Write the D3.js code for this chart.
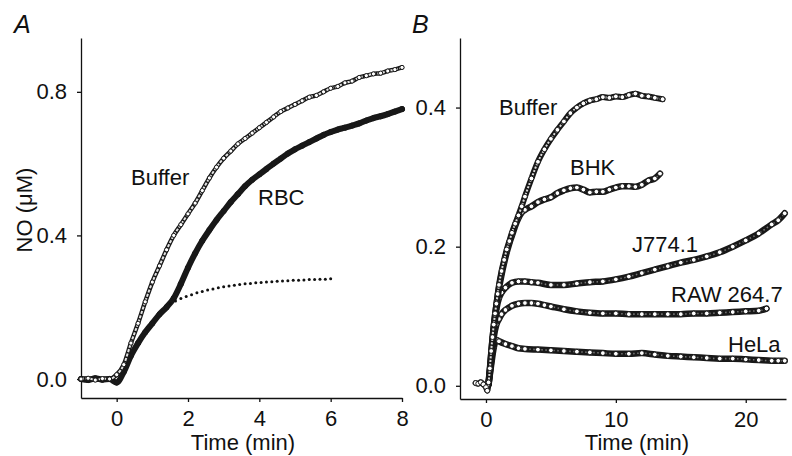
<!DOCTYPE html>
<html>
<head>
<meta charset="utf-8">
<script src="https://cdn.jsdelivr.net/npm/d3@7"></script>
<style>
  body { margin: 0; background: #fff; }
  svg { display: block; font-family: "Liberation Sans", Arial, sans-serif; }
  .axis path, .axis line { stroke: #111; stroke-width: 1.3; }
  .axis text { font-size: 22px; fill: #111; font-family: "Liberation Sans", Arial, sans-serif; }
</style>
</head>
<body>
<svg id="chart" width="792" height="456"></svg>
<script>
// panel A : time (min) and NO (uM)
var timeA = [-1, -0.8, -0.6, -0.4, -0.2, 0, 0.2, 0.4, 0.6, 0.8, 1.0, 1.2, 1.4, 1.6, 1.8, 2.0, 2.2, 2.4, 2.6, 2.8, 3.0,
  3.2, 3.4, 3.6, 3.8, 4.0, 4.2, 4.4, 4.6, 4.8, 5.0, 5.2, 5.4, 5.6, 5.8, 6.0, 6.2, 6.4, 6.6, 6.8, 7.0, 7.2, 7.4, 7.6, 7.8, 8.0];
var bufferA = [0, 0.002, -0.003, 0.001, 0, 0.012, 0.04, 0.10, 0.155, 0.215, 0.27, 0.315, 0.36, 0.40, 0.43, 0.46, 0.49, 0.525,
  0.56, 0.59, 0.615, 0.635, 0.655, 0.67, 0.685, 0.70, 0.715, 0.73, 0.745, 0.755, 0.765, 0.775, 0.785, 0.79, 0.80, 0.81,
  0.815, 0.825, 0.83, 0.84, 0.845, 0.85, 0.852, 0.858, 0.862, 0.868];
var rbcA = [0, -0.003, 0.002, -0.002, 0, -0.01, 0.02, 0.065, 0.10, 0.13, 0.155, 0.18, 0.20, 0.225, 0.265, 0.31, 0.35, 0.385,
  0.415, 0.443, 0.468, 0.493, 0.515, 0.537, 0.555, 0.57, 0.585, 0.60, 0.614, 0.628, 0.64, 0.65, 0.66, 0.67, 0.68, 0.688,
  0.695, 0.70, 0.706, 0.712, 0.72, 0.727, 0.732, 0.738, 0.745, 0.752];
var fitTime = [1.5, 1.65, 1.8, 1.95, 2.1, 2.25, 2.4, 2.55, 2.7, 2.85, 3.0, 3.15, 3.3, 3.45, 3.6, 3.75, 3.9, 4.05, 4.2, 4.35,
  4.5, 4.65, 4.8, 4.95, 5.1, 5.25, 5.4, 5.55, 5.7, 5.85, 6.0];
var fitA = [0.21, 0.217, 0.224, 0.23, 0.235, 0.24, 0.244, 0.248, 0.251, 0.254, 0.257, 0.259, 0.261, 0.263, 0.265, 0.266,
  0.268, 0.269, 0.270, 0.271, 0.272, 0.273, 0.274, 0.275, 0.275, 0.276, 0.277, 0.277, 0.278, 0.278, 0.279];

// panel B : [time, NO]
var bufferB = [[-0.8, 0.004], [-0.6, 0.003], [-0.4, 0.005], [-0.2, 0.002], [0, -0.002], [0.1, -0.007], [0.2, 0.005],
  [0.3, 0.025], [0.4, 0.05], [0.5, 0.07], [0.6, 0.088], [0.7, 0.104], [0.8, 0.118], [0.9, 0.132], [1.0, 0.145],
  [1.2, 0.165], [1.4, 0.181], [1.6, 0.196], [1.8, 0.208], [2.0, 0.22], [2.25, 0.233], [2.5, 0.245], [2.75, 0.258],
  [3.0, 0.272], [3.5, 0.298], [4.0, 0.322], [4.5, 0.34], [5.0, 0.355], [5.5, 0.368], [6.0, 0.38], [6.5, 0.392],
  [7.0, 0.40], [7.5, 0.406], [8.0, 0.41], [8.5, 0.412], [9.0, 0.415], [9.5, 0.414], [10, 0.416], [10.5, 0.415],
  [11, 0.418], [11.5, 0.42], [12, 0.417], [12.5, 0.416], [13, 0.414], [13.6, 0.412]];
var bhkB = [[0.2, 0.004], [0.4, 0.045], [0.6, 0.085], [0.8, 0.115], [1.0, 0.14], [1.2, 0.16], [1.4, 0.177], [1.6, 0.192],
  [1.8, 0.205], [2.0, 0.216], [2.25, 0.23], [2.5, 0.241], [2.75, 0.249], [3.0, 0.253], [3.5, 0.258], [4.0, 0.264],
  [4.5, 0.268], [5.0, 0.271], [5.5, 0.277], [6.0, 0.281], [6.5, 0.284], [7.0, 0.285], [7.5, 0.282], [8.0, 0.278],
  [8.5, 0.279], [9.0, 0.279], [9.5, 0.282], [10, 0.285], [10.5, 0.287], [11, 0.287], [11.5, 0.286], [12, 0.289],
  [12.5, 0.295], [13, 0.298], [13.4, 0.305]];
var j774B = [[0.2, 0.003], [0.4, 0.04], [0.6, 0.08], [0.8, 0.11], [1.0, 0.126], [1.2, 0.134], [1.5, 0.141], [2.0, 0.148],
  [2.5, 0.15], [3.0, 0.15], [3.5, 0.149], [4.0, 0.148], [5.0, 0.145], [6.0, 0.145], [7.0, 0.147], [8.0, 0.149],
  [9.0, 0.15], [10, 0.153], [11, 0.157], [12, 0.162], [13, 0.167], [14, 0.172], [15, 0.177], [16, 0.181], [17, 0.186],
  [18, 0.192], [19, 0.2], [20, 0.209], [21, 0.219], [22, 0.232], [22.5, 0.238], [23, 0.248]];
var rawB = [[0.2, 0.002], [0.4, 0.035], [0.6, 0.07], [0.8, 0.088], [1.0, 0.096], [1.2, 0.103], [1.5, 0.109], [2.0, 0.115],
  [2.5, 0.118], [3.0, 0.119], [3.5, 0.119], [4.0, 0.118], [4.5, 0.116], [5.0, 0.114], [6.0, 0.11], [7.0, 0.107],
  [8.0, 0.105], [9.0, 0.104], [10, 0.104], [11, 0.103], [12, 0.103], [13, 0.103], [14, 0.103], [15, 0.103],
  [16, 0.104], [17, 0.104], [18, 0.105], [19, 0.106], [20, 0.107], [21, 0.108], [21.6, 0.111]];
var helaB = [[0.2, 0.002], [0.4, 0.03], [0.6, 0.055], [0.8, 0.066], [1.0, 0.064], [1.5, 0.06], [2.0, 0.057], [2.5, 0.054],
  [3.0, 0.053], [4.0, 0.052], [5.0, 0.051], [6.0, 0.05], [7.0, 0.049], [8.0, 0.048], [9.0, 0.047], [10, 0.046],
  [11, 0.046], [12, 0.047], [13, 0.045], [14, 0.043], [15, 0.042], [16, 0.041], [17, 0.04], [18, 0.039], [19, 0.039],
  [20, 0.038], [21, 0.037], [22, 0.036], [22.5, 0.036], [23, 0.036]];

var ticksAx = [0, 2, 4, 6, 8], ticksAy = [0, 0.4, 0.8];
var ticksBx = [0, 10, 20], ticksBy = [0, 0.2, 0.4];

var svg = d3.select("#chart");

var xA = d3.scaleLinear().domain([-1, 8]).range([81, 402]);
var yA = d3.scaleLinear().domain([-0.053, 0.95]).range([398, 38]);
var xB = d3.scaleLinear().domain([-2, 23.1]).range([460, 786]);
var yB = d3.scaleLinear().domain([-0.019, 0.50]).range([399, 38]);

function drawAxes(x, y, tx, ty) {
  svg.append("g").attr("class", "axis")
    .attr("transform", "translate(0," + y.range()[0] + ")")
    .call(d3.axisBottom(x).tickValues(tx).tickSize(4).tickSizeOuter(0).tickPadding(8).tickFormat(d3.format("d")));
  svg.append("g").attr("class", "axis")
    .attr("transform", "translate(" + x.range()[0] + ",0)")
    .call(d3.axisLeft(y).tickValues(ty).tickSize(4).tickSizeOuter(0).tickPadding(10).tickFormat(d3.format(".1f")));
}

// style: band width, inner colour (null = solid), marker radius
function drawSeries(pts, x, y, st) {
  var line = d3.line().x(function(d) { return x(d[0]); }).y(function(d) { return y(d[1]); }).curve(d3.curveMonotoneX);
  var g = svg.append("g");
  g.append("path").attr("d", line(pts)).attr("fill", "none")
    .attr("stroke", "#181818").attr("stroke-width", st.w).attr("stroke-linejoin", "round").attr("stroke-linecap", "round");
  if (st.inner) {
    g.append("path").attr("d", line(pts)).attr("fill", "none")
      .attr("stroke", st.inner).attr("stroke-width", st.iw).attr("stroke-dasharray", st.dash);
  }
  g.selectAll("circle").data(pts).enter().append("circle")
    .attr("cx", function(d) { return x(d[0]); })
    .attr("cy", function(d) { return y(d[1]); })
    .attr("r", st.r)
    .attr("fill", st.inner ? "#fff" : "#181818")
    .attr("stroke", "#181818").attr("stroke-width", 1);
}

function zip(t, v) { return t.map(function(d, i) { return [d, v[i]]; }); }

drawAxes(xA, yA, ticksAx, ticksAy);
drawAxes(xB, yB, ticksBx, ticksBy);

var openA = { w: 4.5, inner: "#e4e4e4", iw: 2, dash: "3,1.5", r: 2.1 };
var solidA = { w: 6, inner: null, r: 2.6 };
var bandB = { w: 6.5, inner: "#777", iw: 1.6, dash: "1.5,2.5", r: 2.4 };
var riseB = { w: 6, inner: "#ddd", iw: 2, dash: "2,1.5", r: 2.4 };

drawSeries(zip(timeA, rbcA), xA, yA, solidA);
drawSeries(zip(timeA, bufferA), xA, yA, openA);
svg.append("g").selectAll("circle").data(zip(fitTime, fitA)).enter().append("circle")
  .attr("cx", function(d) { return xA(d[0]); })
  .attr("cy", function(d) { return yA(d[1]); })
  .attr("r", 1.5).attr("fill", "#111");

drawSeries(helaB, xB, yB, bandB);
drawSeries(rawB, xB, yB, bandB);
drawSeries(j774B, xB, yB, bandB);
drawSeries(bhkB, xB, yB, bandB);
drawSeries(bufferB, xB, yB, riseB);

// labels
function label(txt, x, y, opts) {
  var t = svg.append("text").attr("x", x).attr("y", y).attr("font-size", (opts && opts.size) || 22)
    .attr("fill", "#111").text(txt);
  if (opts && opts.italic) t.attr("font-style", "italic");
  return t;
}
label("A", 14, 33, { size: 25, italic: true });
label("B", 412, 33, { size: 25, italic: true });
label("Buffer", 131, 185);
label("RBC", 258, 205);
label("Buffer", 499, 115);
label("BHK", 570, 175);
label("J774.1", 632, 252);
label("RAW 264.7", 671, 302);
label("HeLa", 728, 352);
label("Time (min)", 243, 450).attr("text-anchor", "middle");
label("Time (min)", 637, 450).attr("text-anchor", "middle");
svg.append("text").attr("transform", "translate(32,210) rotate(-90)")
  .attr("text-anchor", "middle").attr("font-size", 22).attr("fill", "#111").text("NO (\u03bcM)");
</script>
</body>
</html>
